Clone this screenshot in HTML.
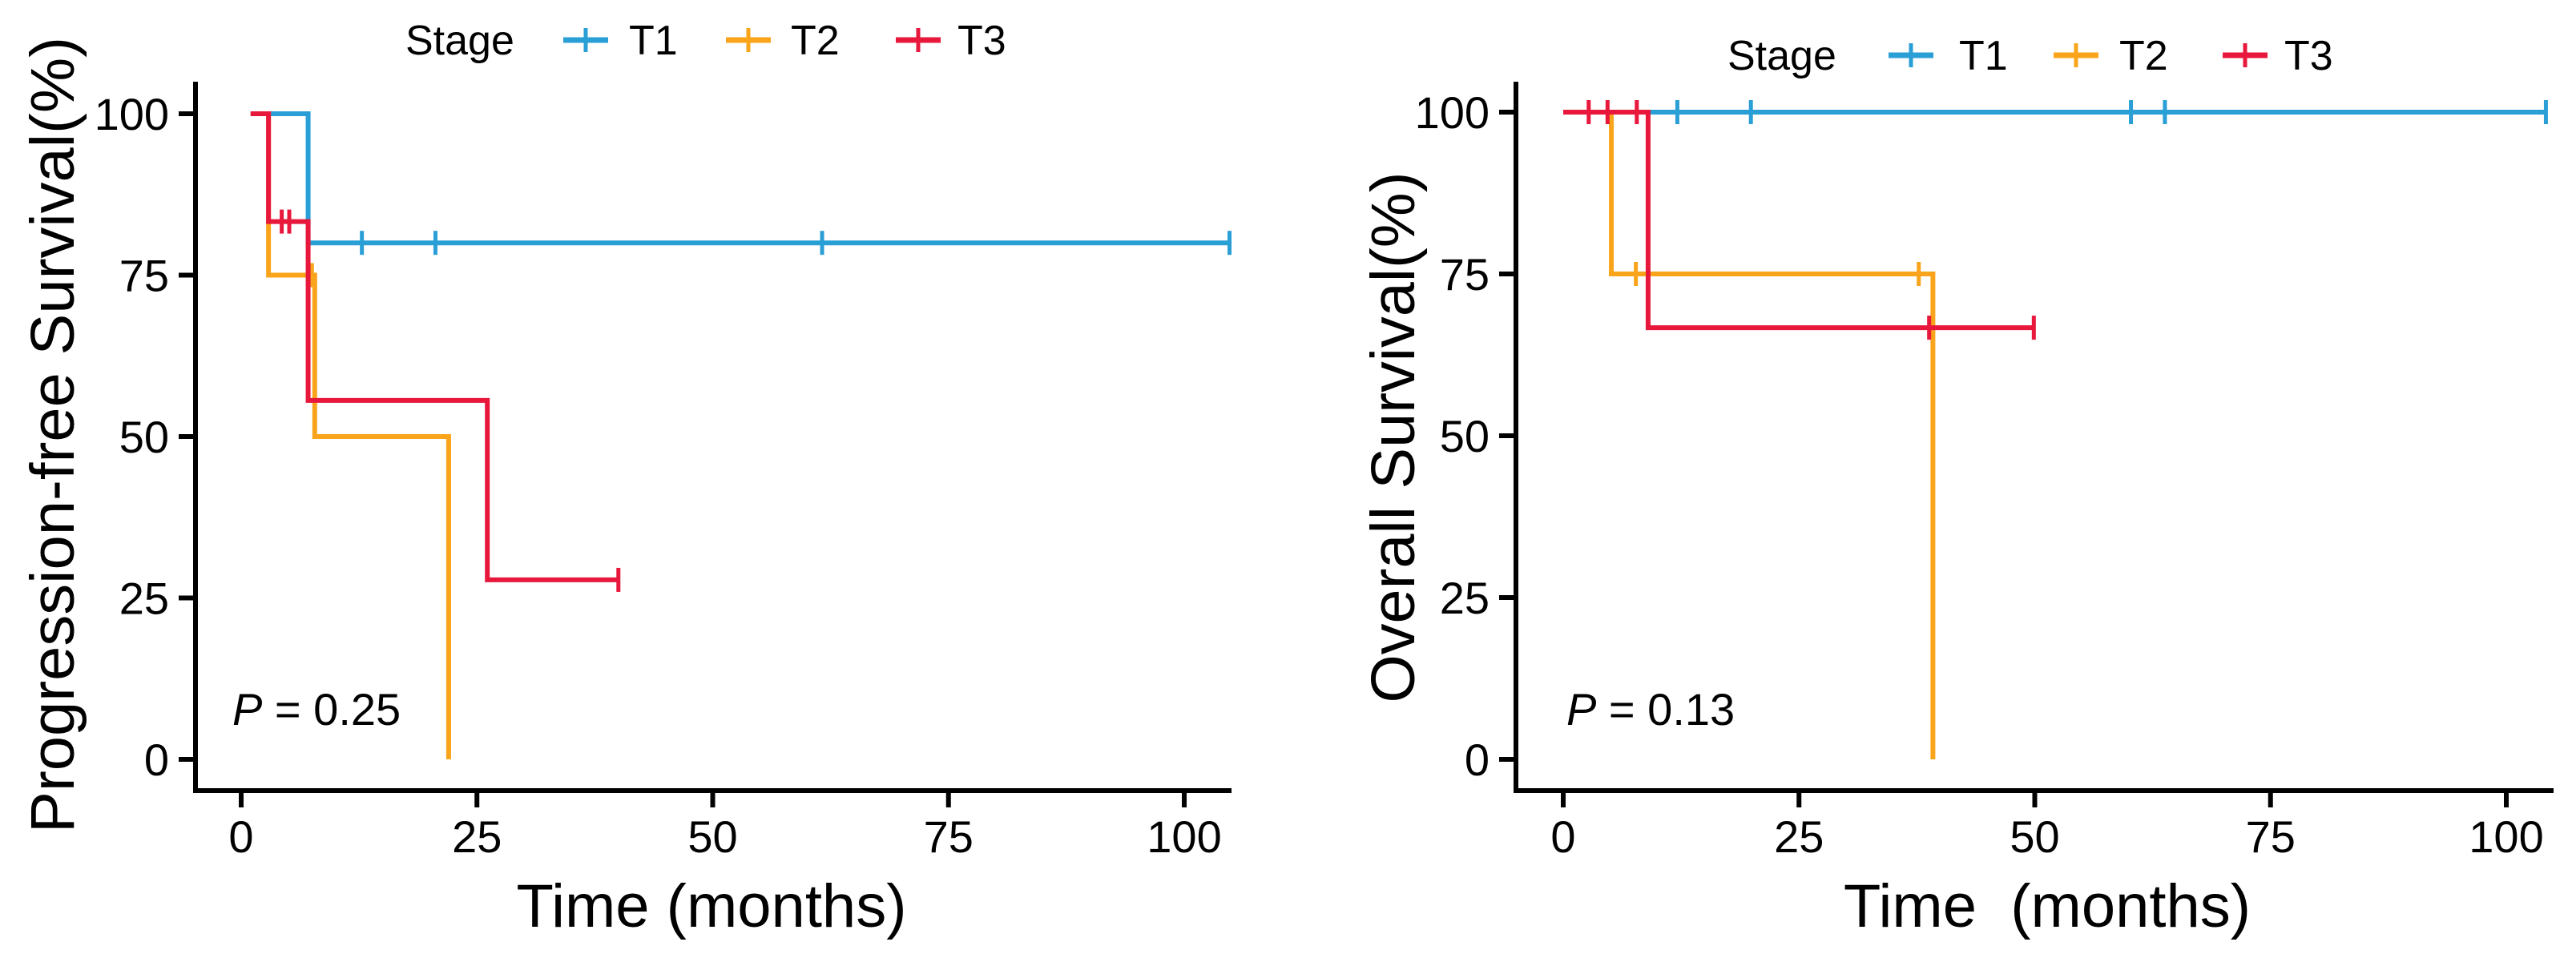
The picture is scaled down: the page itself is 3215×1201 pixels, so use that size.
<!DOCTYPE html>
<html><head><meta charset="utf-8"><style>
html,body{margin:0;padding:0;background:#fff;}
svg{display:block;font-family:"Liberation Sans",Arial,sans-serif;}
text{white-space:pre;}
</style></head><body>
<svg id="fig" width="3215" height="1201" viewBox="0 0 3215 1201">
<g id="left"></g>
<g id="right"></g>
</svg>
<script>
const xTicks=[0,25,50,75,100];
const yTicks=[0,25,50,75,100];
const seriesNames=["T1","T2","T3"];
const seriesColors=["#2a9fd6","#f9a41a","#e8173c"];
// PFS (left)
const pfsT1Times=[1,7.1], pfsT1Surv=[100,80], pfsT1End=104.8, pfsT1Cens=[12.8,20.6,61.6,104.8];
const pfsT2Times=[1,2.9,7.8,22], pfsT2Surv=[100,75,50,0], pfsT2End=22, pfsT2Cens=[7.5];
const pfsT3Times=[1,2.9,7.1,26.1], pfsT3Surv=[100,83.3,55.6,27.8], pfsT3End=40, pfsT3Cens=[4.3,5.1,40];
// OS (right)
const osT1Times=[0], osT1Surv=[100], osT1End=104.2, osT1Cens=[12.1,19.9,60.2,63.8,104.2];
const osT2Times=[0,5.1,39.2], osT2Surv=[100,75,0], osT2End=39.2, osT2Cens=[7.7,37.7];
const osT3Times=[0,9], osT3Surv=[100,66.7], osT3End=49.9, osT3Cens=[2.7,4.7,7.8,38.8,49.9];

const NS="http://www.w3.org/2000/svg";
function mk(parent,tag,attrs,text){const e=document.createElementNS(NS,tag);for(const k in attrs)e.setAttribute(k,attrs[k]);if(text!==undefined)e.textContent=text;parent.appendChild(e);return e;}

function panel(g,cfg,series){
  const X=t=>cfg.x0+(t-0)*(cfg.x100-cfg.x0)/100;
  const Y=v=>cfg.y0+(v-0)*(cfg.y100-cfg.y0)/100;
  const ax=mk(g,"path",{d:`M${cfg.ax},${cfg.top} V${cfg.axY} H${cfg.axEnd}`,fill:"none",stroke:"#000","stroke-width":6});
  
  
  xTicks.forEach(t=>{
    const tk=mk(g,"line",{x1:X(t),x2:X(t),y1:cfg.axY,y2:cfg.axY+21,stroke:"#000","stroke-width":6});
    
    
    const lb=mk(g,"text",{x:X(t),y:1064,"text-anchor":"middle","font-size":56,fill:"#000"},String(t));
    
    
  });
  yTicks.forEach(v=>{
    const tk=mk(g,"line",{x1:cfg.ax-21,x2:cfg.ax,y1:Y(v),y2:Y(v),stroke:"#000","stroke-width":6});
    
    
    const lb=mk(g,"text",{x:cfg.ax-33,y:Y(v)+20,"text-anchor":"end","font-size":56,fill:"#000"},String(v));
    
    
  });
  const xt=mk(g,"text",{x:cfg.xtX,y:1157,"text-anchor":"middle","font-size":76,fill:"#000"},cfg.xTitle);
  
  
  const yt=mk(g,"text",{x:0,y:0,"text-anchor":"middle","font-size":77,fill:"#000",transform:`translate(${cfg.ytX},${cfg.ytY}) rotate(-90)`,textLength:cfg.ytLen,lengthAdjust:"spacingAndGlyphs"},cfg.yTitle);
  
  
  const pt=mk(g,"text",{x:cfg.pX,y:905,"font-size":56,fill:"#000"});
  
  
  mk(pt,"tspan",{"font-style":"italic"},"P");
  mk(pt,"tspan",{},cfg.pText);
  const lg=mk(g,"g",{});
  
  
  const st=mk(lg,"text",{x:cfg.legX[0],y:cfg.legY+18,"font-size":52,fill:"#000"},"Stage");
  
  
  seriesNames.forEach((n,i)=>{
    const kx=cfg.legX[1+i*2];
    const k1=mk(lg,"line",{x1:kx,x2:kx+56,y1:cfg.legY,y2:cfg.legY,stroke:seriesColors[i],"stroke-width":7});
    
    
    mk(lg,"line",{x1:kx+28,x2:kx+28,y1:cfg.legY-15,y2:cfg.legY+15,stroke:seriesColors[i],"stroke-width":5});
    const lt=mk(lg,"text",{x:cfg.legX[2+i*2],y:cfg.legY+18,"font-size":52,fill:"#000"},n);
    
    
  });
  series.forEach((s,i)=>{
    let d=`M${X(s.times[0])},${Y(s.surv[0])}`;
    for(let j=1;j<s.times.length;j++){d+=` H${X(s.times[j])} V${Y(s.surv[j])}`;}
    d+=` H${X(s.end)}`;
    const p=mk(g,"path",{d:d,fill:"none",stroke:seriesColors[i],"stroke-width":6});
    
    
    s.cens.forEach(t=>{
      let v=s.surv[0];
      for(let j=0;j<s.times.length;j++){if(t>=s.times[j])v=s.surv[j];}
      const c=mk(g,"line",{x1:X(t),x2:X(t),y1:Y(v)-15,y2:Y(v)+15,stroke:seriesColors[i],"stroke-width":5});
      
      
    });
  });
}

panel(document.getElementById("left"),{
  x0:301,x100:1478,y0:948,y100:142,ax:244,top:102,axY:987,axEnd:1537,
  xTitle:"Time (months)",xtX:888,yTitle:"Progression-free Survival(%)",ytX:92,ytY:543,ytLen:994,
  pX:290,pText:" = 0.25",legY:50,legX:[506,703,785,906,987,1118,1195]
},[
  {times:pfsT1Times,surv:pfsT1Surv,end:pfsT1End,cens:pfsT1Cens},
  {times:pfsT2Times,surv:pfsT2Surv,end:pfsT2End,cens:pfsT2Cens},
  {times:pfsT3Times,surv:pfsT3Surv,end:pfsT3End,cens:pfsT3Cens}
]);
panel(document.getElementById("right"),{
  x0:1951,x100:3128,y0:948,y100:140,ax:1892,top:102,axY:987,axEnd:3187,
  xTitle:"Time  (months)",xtX:2555,yTitle:"Overall Survival(%)",ytX:1765,ytY:546,ytLen:663,
  pX:1955,pText:" = 0.13",legY:69,legX:[2156,2357,2445,2563,2645,2774,2851]
},[
  {times:osT1Times,surv:osT1Surv,end:osT1End,cens:osT1Cens},
  {times:osT2Times,surv:osT2Surv,end:osT2End,cens:osT2Cens},
  {times:osT3Times,surv:osT3Surv,end:osT3End,cens:osT3Cens}
]);
</script>
</body></html>
